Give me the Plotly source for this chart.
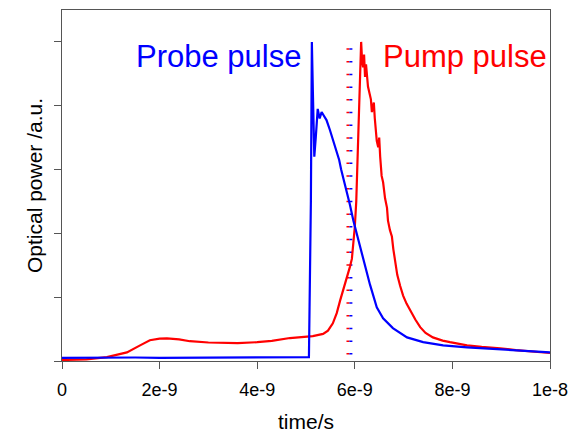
import plotly.graph_objects as go

# time in ns, power normalised to probe peak
probe_t = [0, 0.5, 1.0, 1.5, 2.0, 2.5, 3.0, 3.5, 4.0, 4.5, 5.0, 5.06, 5.10, 5.12,
           5.14, 5.17, 5.20, 5.24, 5.28, 5.32, 5.36, 5.42, 5.49, 5.56, 5.64, 5.68,
           5.72, 5.80, 5.84, 5.90, 5.97, 6.07, 6.17, 6.31, 6.45, 6.58, 6.78, 7.07,
           7.4, 7.81, 8.3, 8.98, 9.3, 9.65, 10.0]
probe_v = [0.010, 0.011, 0.010, 0.011, 0.010, 0.010, 0.011, 0.010, 0.011, 0.010,
           0.011, 0.012, 0.50, 1.0, 0.85, 0.64, 0.70, 0.79, 0.76, 0.78, 0.77, 0.755,
           0.724, 0.69, 0.655, 0.63, 0.60, 0.555, 0.53, 0.49, 0.44, 0.38, 0.315,
           0.24, 0.168, 0.134, 0.103, 0.074, 0.059, 0.049, 0.043, 0.037, 0.033,
           0.030, 0.027]

pump_t = [0, 0.5, 0.92, 1.1, 1.33, 1.6, 1.8, 2.0, 2.15, 2.4, 2.62, 3.0, 3.3, 3.6,
          4.0, 4.3, 4.67, 5.0, 5.14, 5.35, 5.45, 5.55, 5.63, 5.70, 5.77, 5.84,
          5.90, 5.94, 5.97, 6.00, 6.03, 6.05, 6.07, 6.09, 6.11, 6.13, 6.15, 6.17,
          6.19, 6.21, 6.23, 6.25, 6.27, 6.30, 6.33, 6.35, 6.37, 6.39, 6.41, 6.43,
          6.45, 6.48, 6.50, 6.52, 6.55, 6.58, 6.62, 6.66, 6.68, 6.72, 6.76, 6.79,
          6.83, 6.87, 6.93, 6.99, 7.06, 7.13, 7.24, 7.34, 7.45, 7.6, 7.8, 7.95,
          8.3, 8.6, 8.98, 9.3, 9.65, 10.0]
pump_v = [0.003, 0.005, 0.012, 0.018, 0.027, 0.049, 0.065, 0.070, 0.071, 0.068,
          0.062, 0.058, 0.056, 0.056, 0.059, 0.063, 0.072, 0.076, 0.078, 0.085,
          0.095, 0.118, 0.15, 0.19, 0.225, 0.263, 0.295, 0.32, 0.37, 0.42, 0.50,
          0.60, 0.72, 0.86, 0.95, 1.0, 0.94, 0.92, 0.96, 0.89, 0.93, 0.90, 0.86,
          0.84, 0.82, 0.78, 0.80, 0.81, 0.76, 0.73, 0.69, 0.67, 0.70, 0.64, 0.58,
          0.56, 0.51, 0.48, 0.44, 0.41, 0.39, 0.35, 0.31, 0.27, 0.235, 0.205,
          0.18, 0.16, 0.13, 0.106, 0.088, 0.074, 0.064, 0.059, 0.049, 0.044, 0.04,
          0.034, 0.029, 0.025]

marker_t = 5.89
marker_y = [0.02, 1.0]

tick_vals = [0, 2e-9, 4e-9, 6e-9, 8e-9, 1e-8]
tick_text = ["0", "2e-9", "4e-9", "6e-9", "8e-9", "1e-8"]

FONT = "Liberation Sans, Arial, sans-serif"
ns = 1e-9

fig = go.Figure()

# dotted time marker: red and blue halves side by side
for dt, col in [(-0.03, "red"), (0.03, "blue")]:
    fig.add_trace(go.Scatter(
        x=[(marker_t + dt) * ns] * 2, y=marker_y, mode="lines",
        line=dict(color=col, width=3, dash="1.5px,11.2px"),
        showlegend=False, hoverinfo="skip"))

fig.add_trace(go.Scatter(x=[t * ns for t in pump_t], y=pump_v, mode="lines",
                         line=dict(color="#ff0000", width=2.2), showlegend=False))
fig.add_trace(go.Scatter(x=[t * ns for t in probe_t], y=probe_v, mode="lines",
                         line=dict(color="#0000ff", width=2.2), showlegend=False))

fig.add_annotation(x=3.21 * ns, y=0.953, text="Probe pulse", showarrow=False,
                   font=dict(family=FONT, size=31, color="#0000ff"))
fig.add_annotation(x=8.25 * ns, y=0.953, text="Pump pulse", showarrow=False,
                   font=dict(family=FONT, size=31, color="#ff0000"))

fig.update_layout(
    width=568, height=433,
    margin=dict(l=62, r=18, t=10, b=72, autoexpand=False),
    plot_bgcolor="white", paper_bgcolor="white",
    font=dict(family=FONT, size=18, color="black"),
    xaxis=dict(range=[0, 1e-8], tickvals=tick_vals, ticktext=tick_text,
               ticks="outside", ticklen=7, tickcolor="#555", showline=True,
               linecolor="#555", linewidth=1, mirror=True, showgrid=False,
               zeroline=False, ticklabelstandoff=5, ticklabeloverflow="allow",
               automargin=False,
               title=dict(text="time/s", font=dict(size=21), standoff=15)),
    yaxis=dict(range=[0, 1.1], tickvals=[0, 0.2, 0.4, 0.6, 0.8, 1.0],
               showticklabels=False, ticks="outside", ticklen=7, tickcolor="#555",
               showline=True, linecolor="#555", linewidth=1, mirror=True,
               showgrid=False, zeroline=False, automargin=False,
               title=dict(text="Optical power /a.u.", font=dict(size=21), standoff=5)),
)

# drop the default 8px page margin so the figure fills the window
fig.write_html("out.html", config={"displayModeBar": False},
               post_script="document.body.style.margin='0';")
